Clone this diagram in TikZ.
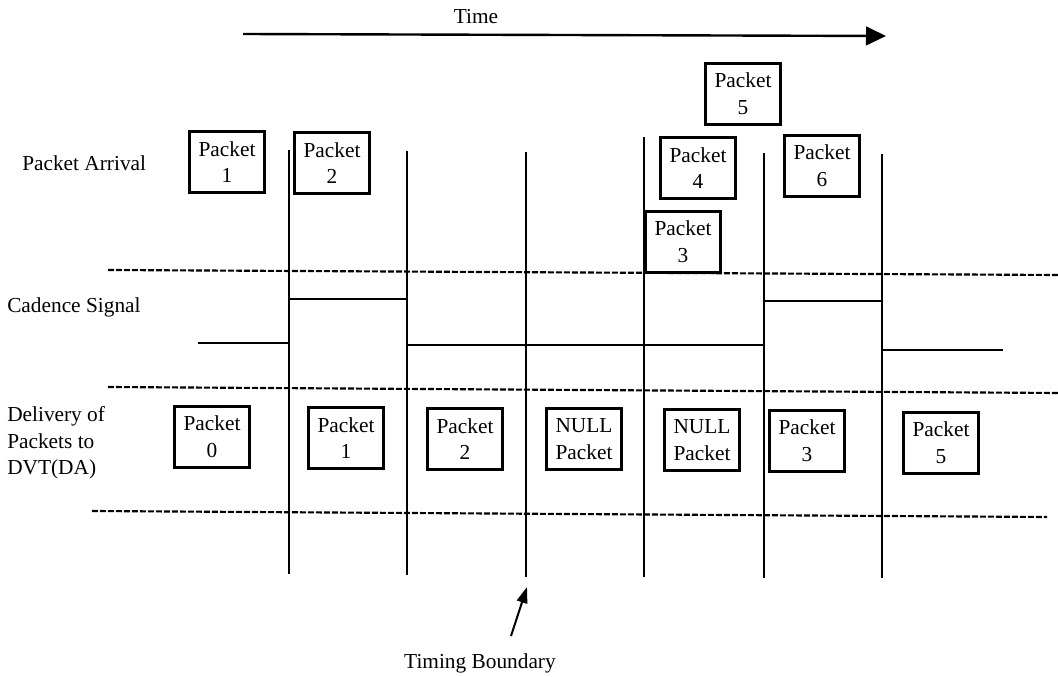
\documentclass[tikz,border=0pt]{standalone}
\usepackage{fontspec}
\setmainfont{Liberation Serif}
\usetikzlibrary{arrows.meta}
\begin{document}
\begin{tikzpicture}[
  x=0.75pt,
  y=-0.75pt,
  every node/.style={font=\fontsize{16}{20}\selectfont},
  pkt/.style={draw=black, line width=1.8pt, fill=white, align=center, minimum width=56pt, minimum height=46pt, inner sep=1pt},
  rowlabel/.style={anchor=west, align=left, inner sep=0pt},
  boundary/.style={black, line width=1.5pt},
  lane/.style={black, line width=1.6pt, dash pattern=on 4.5pt off 1.5pt},
  cadence/.style={black, line width=1.5pt},
  timearrow/.style={black, line width=1.8pt, -{Triangle[length=15pt,width=14pt]}},
  pointer/.style={black, line width=1.5pt, -{Triangle[length=12pt,width=8pt]}}
]
\useasboundingbox (0,0) rectangle (1058,677);

\node (time) at (476,17) {Time};
\coordinate (tstart) at (243,34);
\coordinate (tend) at (886,36);
\draw[timearrow] (tstart) -- (tend);

\node[rowlabel] (arrival) at (22,163) {Packet Arrival};
\node[rowlabel] (cadlabel) at (7,307) {Cadence Signal};
\node[rowlabel] (delivery) at (7,443) {Delivery of\\Packets to\\DVT(DA)};

\coordinate (b1top) at (289,150);
\coordinate (b1bot) at (289,574);
\coordinate (b2top) at (407,151);
\coordinate (b2bot) at (407,575);
\coordinate (b3top) at (526,152);
\coordinate (b3bot) at (526,577);
\coordinate (b4top) at (644,137);
\coordinate (b4bot) at (644,577);
\coordinate (b5top) at (764,153);
\coordinate (b5bot) at (764,578);
\coordinate (b6top) at (882,154);
\coordinate (b6bot) at (882,578);

\draw[boundary] (b1top) -- (b1bot);
\draw[boundary] (b2top) -- (b2bot);
\draw[boundary] (b3top) -- (b3bot);
\draw[boundary] (b4top) -- (b4bot);
\draw[boundary] (b5top) -- (b5bot);
\draw[boundary] (b6top) -- (b6bot);

\coordinate (laneAl) at (108,270);
\coordinate (laneAr) at (1058,275);
\coordinate (laneBl) at (108,387);
\coordinate (laneBr) at (1058,393);
\coordinate (laneCl) at (92,511);
\coordinate (laneCr) at (1047,517);
\draw[lane] (laneAl) -- (laneAr);
\draw[lane] (laneBl) -- (laneBr);
\draw[lane] (laneCl) -- (laneCr);

\coordinate (cstart) at (198,343);
\coordinate (cend) at (1003,350);
\draw[cadence] (cstart) -- (289,343) -- (289,299) -- (407,299) -- (407,345)
  -- (764,345) -- (764,301) -- (882,301) -- (882,350) -- (cend);

\node[pkt] (arr1) at (227,162) {Packet\\1};
\node[pkt] (arr2) at (332,163) {Packet\\2};
\node[pkt] (arr5) at (743,94) {Packet\\5};
\node[pkt] (arr4) at (698,168) {Packet\\4};
\node[pkt] (arr6) at (822,166) {Packet\\6};
\node[pkt] (arr3) at (683,242) {Packet\\3};

\node[pkt] (out0) at (212,437) {Packet\\0};
\node[pkt] (out1) at (346,438) {Packet\\1};
\node[pkt] (out2) at (465,439) {Packet\\2};
\node[pkt] (null1) at (584,439) {NULL\\Packet};
\node[pkt] (null2) at (702,440) {NULL\\Packet};
\node[pkt] (out3) at (807,441) {Packet\\3};
\node[pkt] (out5) at (941,443) {Packet\\5};

\node (tb) at (480,663) {Timing Boundary};
\coordinate (tbtail) at (511,636);
\coordinate (tbtip) at (527,587);
\draw[pointer] (tbtail) -- (tbtip);
\end{tikzpicture}
\end{document}
